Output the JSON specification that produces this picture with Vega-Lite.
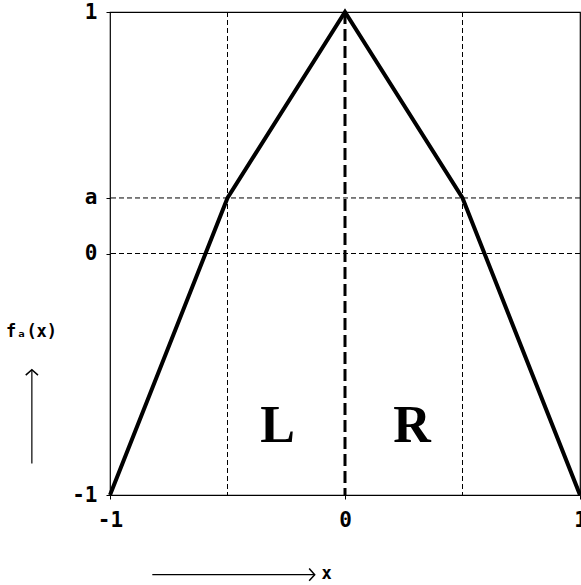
{
  "$schema": "https://vega.github.io/schema/vega-lite/v6.json",
  "width": 470,
  "height": 483,
  "autosize": {"type": "none"},
  "padding": {"left": 110, "top": 12, "right": 1, "bottom": 90},
  "background": "white",
  "config": {
    "view": {"stroke": "black", "strokeWidth": 1.2},
    "axis": {
      "domain": false,
      "grid": false,
      "tickColor": "black",
      "tickSize": 4,
      "labelColor": "black",
      "labelFont": "DejaVu Sans Mono",
      "labelFontWeight": "bold",
      "labelFontSize": 21,
      "titleColor": "black",
      "titleFont": "DejaVu Sans Mono",
      "titleFontWeight": "bold"
    }
  },
  "datasets": {
    "curve": [
      {"x": -1, "y": -1},
      {"x": -0.5, "y": 0.23},
      {"x": 0, "y": 1},
      {"x": 0.5, "y": 0.23},
      {"x": 1, "y": -1}
    ],
    "vgrid": [{"x": -0.5}, {"x": 0.5}],
    "center": [{"x": 0}],
    "hgrid": [{"y": 0.23}, {"y": 0}],
    "regions": [
      {"x": -0.287, "y": -0.716, "t": "L"},
      {"x": 0.285, "y": -0.716, "t": "R"}
    ],
    "yarrow": [{"x": -1.3325, "y": -0.87, "y2": -0.481}],
    "xarrow": [{"x": -0.82, "x2": -0.129, "y": -1.33}]
  },
  "encoding": {
    "x": {
      "field": "x",
      "type": "quantitative",
      "scale": {"domain": [-1, 1], "nice": false, "zero": false},
      "axis": {
        "values": [-1, 0, 1],
        "labelExpr": "datum.value == -1 ? '-1' : datum.value == 0 ? '0' : '1'",
        "labelFlush": false,
        "labelOverlap": false,
        "labelPadding": 10,
        "title": "x",
        "titleFontSize": 17,
        "titleX": 216,
        "titleY": 78,
        "titleAlign": "center",
        "titleBaseline": "middle"
      }
    },
    "y": {
      "field": "y",
      "type": "quantitative",
      "scale": {"domain": [-1, 1], "nice": false, "zero": false},
      "axis": {
        "values": [-1, 0, 0.23, 1],
        "labelExpr": "datum.value == 1 ? '1' : datum.value == -1 ? '-1' : datum.value == 0 ? '0' : 'a'",
        "labelFlush": false,
        "labelOverlap": false,
        "labelPadding": 9,
        "title": "fₐ(x)",
        "titleFontSize": 17,
        "titleAngle": 0,
        "titleX": -79,
        "titleY": 319,
        "titleAlign": "center",
        "titleBaseline": "middle"
      }
    }
  },
  "layer": [
    {
      "data": {"name": "vgrid"},
      "mark": {"type": "rule", "color": "black", "strokeWidth": 1, "strokeDash": [5, 3]},
      "encoding": {"y": null}
    },
    {
      "data": {"name": "hgrid"},
      "mark": {"type": "rule", "color": "black", "strokeWidth": 1, "strokeDash": [5, 3]},
      "encoding": {"x": null}
    },
    {
      "data": {"name": "center"},
      "mark": {"type": "rule", "color": "black", "strokeWidth": 3, "strokeDash": [12, 5]},
      "encoding": {"y": null}
    },
    {
      "data": {"name": "curve"},
      "mark": {"type": "line", "color": "black", "strokeWidth": 4, "strokeJoin": "miter"}
    },
    {
      "data": {"name": "regions"},
      "mark": {
        "type": "text",
        "font": "Liberation Serif",
        "fontWeight": "bold",
        "fontSize": 52,
        "color": "black",
        "baseline": "middle",
        "align": "center"
      },
      "encoding": {"text": {"field": "t"}}
    },
    {
      "data": {"name": "yarrow"},
      "mark": {"type": "rule", "color": "black", "strokeWidth": 1.2},
      "encoding": {"y2": {"field": "y2"}}
    },
    {
      "data": {"name": "yarrow"},
      "mark": {
        "type": "point",
        "shape": "M-1,0.9L0,0L1,0.9",
        "filled": false,
        "stroke": "black",
        "strokeWidth": 1.5,
        "size": 150,
        "opacity": 1
      },
      "encoding": {"y": {"field": "y2", "type": "quantitative"}}
    },
    {
      "data": {"name": "xarrow"},
      "mark": {"type": "rule", "color": "black", "strokeWidth": 1.2},
      "encoding": {"x2": {"field": "x2"}}
    },
    {
      "data": {"name": "xarrow"},
      "mark": {
        "type": "point",
        "shape": "M-1,0.9L0,0L1,0.9",
        "angle": 90,
        "filled": false,
        "stroke": "black",
        "strokeWidth": 1.5,
        "size": 150,
        "opacity": 1
      },
      "encoding": {"x": {"field": "x2", "type": "quantitative"}}
    }
  ]
}
